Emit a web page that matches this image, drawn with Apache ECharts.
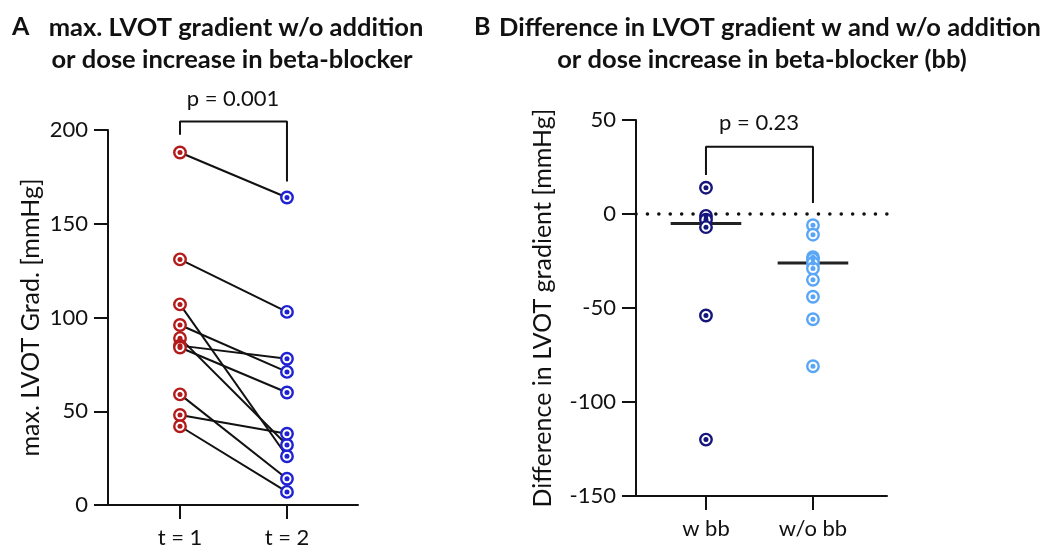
<!DOCTYPE html>
<html>
<head>
<meta charset="utf-8">
<script src="https://cdn.jsdelivr.net/npm/echarts@6/dist/echarts.min.js"></script>
<style>
html, body { margin: 0; padding: 0; background: #fff; }
#chart { width: 1050px; height: 549px; }
</style>
</head>
<body>
<div id="chart"></div>
<script>
// panel A: paired values t = 1 -> t = 2
var timeLabels = ['t = 1', 't = 2'];
var gradT1 = [188, 131, 107, 96, 89, 85, 84, 59, 48, 42];
var gradT2 = [164, 103, 26, 71, 32, 78, 60, 14, 38, 7];

// panel B: difference per group
var groupLabels = ['w bb', 'w/o bb'];
var diffWithBB = [14, -1, -3, -7, -54, -120];
var diffWithoutBB = [-6, -11, -23, -24, -26, -29, -35, -44, -56, -81];
var groupMedians = [-5, -26];

var pLeft = 'p = 0.001';
var pRight = 'p = 0.23';

var FONT = 'Lato, "Open Sans", sans-serif';
var RED = '#b31b1b', BLUE = '#1f22d4', NAVY = '#15157c', LIGHT = '#5aa6f6';

function ring(name, data, color, xi, yi) {
  return [{
    type: 'scatter', name: name, xAxisIndex: xi, yAxisIndex: yi, data: data,
    symbol: 'circle', symbolSize: 11.5, z: 5, silent: true,
    itemStyle: { color: '#fff', borderColor: color, borderWidth: 2.4, opacity: 1 }
  }, {
    type: 'scatter', name: name + ' dot', xAxisIndex: xi, yAxisIndex: yi, data: data,
    symbol: 'circle', symbolSize: 5, z: 6, silent: true,
    itemStyle: { color: color, opacity: 1 }
  }];
}

var series = [];

// connecting lines of panel A
gradT1.forEach(function (v, i) {
  series.push({
    type: 'line', xAxisIndex: 0, yAxisIndex: 0, data: [[1, v], [2, gradT2[i]]],
    symbol: 'none', silent: true, z: 3,
    lineStyle: { color: '#111', width: 2 }
  });
});
series = series.concat(ring('t1', gradT1.map(function (v) { return [1, v]; }), RED, 0, 0));
series = series.concat(ring('t2', gradT2.map(function (v) { return [2, v]; }), BLUE, 0, 0));

// bracket A
series.push({
  type: 'line', xAxisIndex: 0, yAxisIndex: 0, clip: false, symbol: 'none', silent: true,
  data: [[1, 197.5], [1, 204.5], [2, 204.5], [2, 172.5]],
  lineStyle: { color: '#111', width: 2 }
});

// panel B points
var wData = diffWithBB.map(function (v) { return [1, v]; });
var woData = diffWithoutBB.map(function (v) { return [2, v]; });
var bRings = ring('wbb', wData, NAVY, 1, 1);
bRings[0].markLine = {
  silent: true, symbol: 'none', label: { show: false },
  lineStyle: { color: '#111', width: 3.5, type: [0.1, 11.3], cap: 'round' },
  data: [{ yAxis: 0 }]
};
series = series.concat(bRings);
series = series.concat(ring('wobb', woData, LIGHT, 1, 1));

// medians
var halfW = 0.33;
groupMedians.forEach(function (m, i) {
  series.push({
    type: 'line', xAxisIndex: 1, yAxisIndex: 1, symbol: 'none', silent: true, z: 4,
    data: [[i + 1 - halfW, m], [i + 1 + halfW, m]],
    lineStyle: { color: '#222', width: 3 }
  });
});

// bracket B
series.push({
  type: 'line', xAxisIndex: 1, yAxisIndex: 1, clip: false, symbol: 'none', silent: true,
  data: [[1, 20.7], [1, 35.8], [2, 35.8], [2, 5.9]],
  lineStyle: { color: '#111', width: 2 }
});

function xAxisOf(grid, min, max, labels) {
  return {
    type: 'value', gridIndex: grid, min: min, max: max,
    splitLine: { show: false },
    axisLine: { show: true, onZero: false, lineStyle: { color: '#111', width: 2 } },
    axisTick: { show: true, customValues: [1, 2], length: 14, lineStyle: { color: '#111', width: 2 } },
    axisLabel: {
      show: true, customValues: [1, 2], margin: 22,
      color: '#111', fontSize: 22, fontFamily: FONT,
      formatter: function (v) { return labels[Math.round(v) - 1] || ''; }
    }
  };
}

function yAxisOf(grid, min, max, name, gap) {
  return {
    type: 'value', gridIndex: grid, min: min, max: max, interval: 50,
    name: name, nameLocation: 'middle', nameGap: gap,
    nameTextStyle: { color: '#111', fontSize: 25, fontFamily: FONT },
    splitLine: { show: false },
    axisLine: { show: true, onZero: false, lineStyle: { color: '#111', width: 2 } },
    axisTick: { show: true, length: 14, lineStyle: { color: '#111', width: 2 } },
    axisLabel: { color: '#111', fontSize: 22, fontFamily: FONT, margin: 20 }
  };
}

var chart = echarts.init(document.getElementById('chart'));
chart.setOption({
  backgroundColor: '#fff',
  animation: false,
  grid: [
    { left: 108, top: 130, width: 250, height: 376 },
    { left: 636, top: 120, width: 251, height: 376 }
  ],
  xAxis: [
    xAxisOf(0, 0.327, 2.664, timeLabels),
    xAxisOf(1, 0.346, 2.692, groupLabels)
  ],
  yAxis: [
    yAxisOf(0, 0, 200, 'max. LVOT Grad. [mmHg]', 65),
    yAxisOf(1, -150, 50, 'Difference in LVOT gradient [mmHg]', 81)
  ],
  graphic: [
    { type: 'text', left: 12, top: 14, style: { text: 'A', font: 'bold 25px ' + FONT, fill: '#111' } },
    { type: 'text', x: 236, y: 28, style: { text: 'max. LVOT gradient w/o addition', font: 'bold 25.5px ' + FONT, fill: '#111', textAlign: 'center', textVerticalAlign: 'middle' } },
    { type: 'text', x: 232, y: 60, style: { text: 'or dose increase in beta-blocker', font: 'bold 25.5px ' + FONT, fill: '#111', textAlign: 'center', textVerticalAlign: 'middle' } },
    { type: 'text', left: 474, top: 14, style: { text: 'B', font: 'bold 25px ' + FONT, fill: '#111' } },
    { type: 'text', x: 770, y: 28, style: { text: 'Difference in LVOT gradient w and w/o addition', font: 'bold 25.5px ' + FONT, fill: '#111', textAlign: 'center', textVerticalAlign: 'middle' } },
    { type: 'text', x: 762, y: 60, style: { text: 'or dose increase in beta-blocker (bb)', font: 'bold 25.5px ' + FONT, fill: '#111', textAlign: 'center', textVerticalAlign: 'middle' } },
    { type: 'text', x: 233, y: 99, style: { text: pLeft, font: '22px ' + FONT, fill: '#111', textAlign: 'center', textVerticalAlign: 'middle' } },
    { type: 'text', x: 759, y: 123, style: { text: pRight, font: '22px ' + FONT, fill: '#111', textAlign: 'center', textVerticalAlign: 'middle' } }
  ],
  series: series
});
</script>
</body>
</html>
